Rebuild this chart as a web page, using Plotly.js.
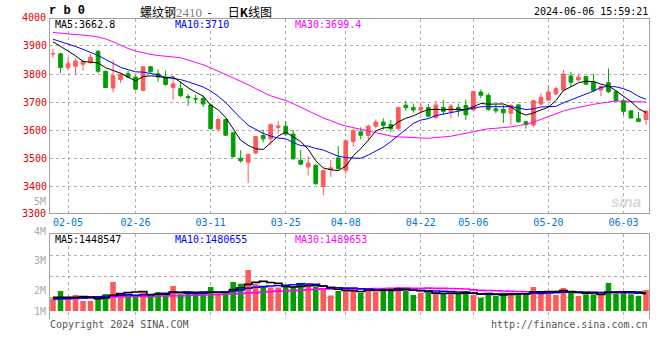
<!DOCTYPE html>
<html><head><meta charset="utf-8">
<script src="https://cdn.plot.ly/plotly-3.0.1.min.js"></script>
<style>html,body{margin:0;padding:0;background:#fff}#chart{width:660px;height:360px}</style>
</head><body><div id="chart"></div>
<script>
// ---- data ----
const dates = ['02-01','02-02','02-05','02-06','02-07','02-08','02-19','02-20','02-21','02-22','02-23','02-26','02-27','02-28','02-29',
 '03-01','03-04','03-05','03-06','03-07','03-08','03-11','03-12','03-13','03-14','03-15','03-18','03-19','03-20','03-21','03-22','03-25','03-26','03-27','03-28','03-29',
 '04-01','04-02','04-03','04-08','04-09','04-10','04-11','04-12','04-15','04-16','04-17','04-18','04-19','04-22','04-23','04-24','04-25','04-26','04-29','04-30',
 '05-06','05-07','05-08','05-09','05-10','05-13','05-14','05-15','05-16','05-17','05-20','05-21','05-22','05-23','05-24','05-27','05-28','05-29','05-30','05-31',
 '06-03','06-04','06-05','06-06'];
const openP = [3871,3872,3823,3828,3835,3840,3881,3810,3750,3780,3801,3789,3741,3826,3801,3789,3752,3748,3720,3713,
 3713,3690,3604,3638,3591,3500,3486,3519,3581,3569,3610,3614,3586,3493,3469,3475,3398,3460,3501,3457,
 3559,3594,3581,3614,3629,3620,3605,3689,3681,3672,3681,3645,3681,3667,3681,3688,3672,3736,3724,3676,
 3674,3660,3690,3630,3618,3693,3707,3729,3743,3793,3779,3791,3773,3743,3769,3737,3705,3669,3641,3638];
const highP = [3889,3876,3859,3855,3852,3870,3886,3812,3850,3805,3812,3795,3829,3829,3817,3812,3790,3773,3728,3727,
 3724,3693,3644,3640,3593,3529,3516,3579,3602,3624,3633,3633,3600,3529,3507,3477,3457,3495,3543,3564,
 3606,3610,3621,3638,3642,3636,3683,3705,3695,3698,3693,3705,3707,3693,3695,3709,3738,3745,3733,3693,
 3690,3693,3693,3633,3707,3731,3761,3755,3814,3807,3802,3793,3800,3757,3820,3743,3710,3669,3665,3668];
const lowP = [3857,3803,3813,3797,3812,3838,3804,3750,3734,3768,3786,3742,3739,3805,3773,3758,3709,3717,3687,3695,
 3682,3605,3594,3579,3503,3484,3412,3514,3557,3547,3586,3579,3495,3475,3439,3404,3368,3433,3460,3445,
 3541,3567,3564,3606,3602,3594,3602,3669,3662,3657,3645,3639,3657,3643,3648,3636,3669,3714,3669,3660,
 3626,3619,3626,3605,3610,3689,3705,3726,3740,3755,3773,3761,3737,3721,3733,3701,3654,3643,3631,3619];
const closeP = [3873,3823,3837,3846,3845,3860,3810,3752,3794,3799,3789,3746,3826,3808,3789,3763,3765,3723,3715,3711,
 3693,3605,3638,3582,3505,3491,3514,3577,3569,3619,3615,3586,3498,3479,3483,3410,3457,3466,3463,3562,
 3598,3582,3614,3629,3617,3605,3681,3680,3672,3681,3650,3690,3667,3686,3672,3655,3738,3724,3674,3669,
 3662,3688,3630,3620,3705,3717,3736,3748,3800,3771,3789,3764,3741,3755,3737,3705,3667,3643,3631,3668];
const volume = [1040000,1640000,1090000,1310000,820000,820000,1040000,1390000,2380000,1480000,
 1250000,1310000,1560000,1170000,1560000,1310000,2050000,1370000,1450000,1450000,
 1450000,1970000,1420000,1530000,2380000,2240000,3360000,2210000,1970000,1930000,
 1930000,2010000,2010000,2210000,2210000,2010000,1800000,1270000,1640000,1680000,
 1890000,1500000,1800000,1580000,1800000,1890000,1970000,1640000,1310000,1500000,
 1500000,1390000,1500000,1390000,1450000,1640000,1310000,1090000,1500000,1230000,
 1500000,1500000,1370000,1450000,1970000,1560000,1640000,1310000,1890000,1530000,
 1230000,1370000,1370000,1310000,2300000,1450000,1450000,1370000,1250000,1720000];
// moving-average values before enough history is on screen
const ma5Head = [3915,3900,3882,3865];
const ma10Head = [3924,3916,3908,3898,3888,3878,3866,3852,3837];
const ma30Head = [3948,3946,3944,3942,3939,3936,3932,3925,3915,3903,3891,3882,3875,3870,3866,3863,3861,3858,3850,3842,
 3833,3822,3810,3800,3788,3775,3762,3748,3735];
const vma5Head = [1120000,1120000,1120000,1120000];
const vma10Head = [980000,1000000,1020000,1050000,1080000,1120000,1160000,1210000,1260000];
const vma30Head = [980000,990000,1010000,1030000,1050000,1070000,1100000,1150000,1180000,1190000,
 1200000,1210000,1220000,1220000,1230000,1230000,1250000,1260000,1270000,1290000,
 1310000,1330000,1350000,1370000,1400000,1430000,1470000,1510000,1560000];
const tickDates = ['02-05','02-26','03-11','03-25','04-08','04-22','05-06','05-20','06-03'];
const priceTicks = [3400,3500,3600,3700,3800,3900];

// ---- helpers ----
function movingAvg(src, n, head){
  const out = [];
  for (let i = 0; i < src.length; i++){
    if (i < n - 1) { out.push(head[i]); continue; }
    let s = 0; for (let j = i - n + 1; j <= i; j++) s += src[j];
    out.push(s / n);
  }
  return out;
}
const idx = dates.map((d, i) => i);
const tickvals = tickDates.map(d => dates.indexOf(d));
const RED = '#ff5a5a', GREEN = '#00a000';
const mono = 'DejaVu Sans Mono, Liberation Mono, monospace';
const volColors = idx.map(i => closeP[i] >= openP[i] ? RED : GREEN);

// geometry helpers (pixel -> paper)
const L = 50, R = 649, T = 19, B = 319;
const px = x => (x - L) / (R - L);
const py = y => (B - y) / (B - T);
const vk = 82000; // lots per pixel in the volume panel
const vRange = [-8 * vk, (B - 8 - 234.3) * vk];
const vGrid = [0.25, 0.5, 0.75].map(q => vRange[0] + q * (vRange[1] - vRange[0]));

const traces = [
  {type:'candlestick', x: idx, open: openP, high: highP, low: lowP, close: closeP,
   xaxis:'x', yaxis:'y', whiskerwidth: 0, hoverinfo:'skip',
   increasing:{line:{color:RED, width:1}, fillcolor:RED},
   decreasing:{line:{color:GREEN, width:1}, fillcolor:GREEN}},
  {type:'scatter', mode:'lines', x: idx, y: movingAvg(closeP, 30, ma30Head), line:{color:'#ff00ff', width:1}, xaxis:'x', yaxis:'y', hoverinfo:'skip'},
  {type:'scatter', mode:'lines', x: idx, y: movingAvg(closeP, 10, ma10Head), line:{color:'#0000ff', width:1}, xaxis:'x', yaxis:'y', hoverinfo:'skip'},
  {type:'scatter', mode:'lines', x: idx, y: movingAvg(closeP, 5, ma5Head), line:{color:'#000000', width:1}, xaxis:'x', yaxis:'y', hoverinfo:'skip'},
  {type:'bar', x: idx, y: volume, marker:{color: volColors, line:{width:0}}, width: 0.74, xaxis:'x2', yaxis:'y2', hoverinfo:'skip'},
  {type:'scatter', mode:'lines', x: idx, y: movingAvg(volume, 30, vma30Head), line:{color:'#ff00ff', width:1.6, shape:'hvh'}, xaxis:'x2', yaxis:'y2', hoverinfo:'skip'},
  {type:'scatter', mode:'lines', x: idx, y: movingAvg(volume, 10, vma10Head), line:{color:'#0000ff', width:1.6, shape:'hvh'}, xaxis:'x2', yaxis:'y2', hoverinfo:'skip'},
  {type:'scatter', mode:'lines', x: idx, y: movingAvg(volume, 5, vma5Head), line:{color:'#000000', width:1.6, shape:'hvh'}, xaxis:'x2', yaxis:'y2', hoverinfo:'skip'}
];

function ann(text, x, y, xanchor, color, size, extra){
  return Object.assign({text, x: px(x), y: py(y), xref:'paper', yref:'paper', xanchor, yanchor:'middle',
    showarrow:false, borderpad:0, font:{family: mono, size: size || 10, color: color || '#000'}}, extra || {});
}

const annotations = [
  ann('<b>r b 0</b>', 48, 11, 'left', '#000', 12, {font:{family:'Liberation Mono, monospace', size:12, color:'#000'}}),
  ann('螺纹钢<span style="color:#808080;font-family:Liberation Serif;font-size:13px">2410</span>&nbsp;&nbsp;-&nbsp;&nbsp;&nbsp;&nbsp;&nbsp;&nbsp;日<b>K</b>线图', 139, 11, 'left', '#000', 12,
      {font:{family:'Noto Sans CJK SC, sans-serif', size:12, color:'#000'}}),
  ann('2024-06-06 15:59:21', 649, 12, 'right', '#000', 10),
  ann('MA5:3662.8', 54, 24, 'left', '#000', 10),
  ann('MA10:3710', 174, 24, 'left', '#0000ff', 10),
  ann('MA30:3699.4', 294, 24, 'left', '#ff00ff', 10),
  ann('MA5:1448547', 54, 239.5, 'left', '#000', 10),
  ann('MA10:1480655', 174, 239.5, 'left', '#0000ff', 10),
  ann('MA30:1489653', 294, 239.5, 'left', '#ff00ff', 10),
  ann('4000', 47, 17, 'right', '#e00000', 10),
  ann('3300', 47, 213, 'right', '#e00000', 10),
  ann('5M', 47, 201, 'right', '#aaaaaa', 10),
  ann('4M', 47, 231, 'right', '#aaaaaa', 10),
  ann('3M', 47, 260.5, 'right', '#aaaaaa', 10),
  ann('2M', 47, 290.5, 'right', '#aaaaaa', 10),
  ann('1M', 47, 311.5, 'right', '#aaaaaa', 10),
  ann('Copyright 2024 SINA.COM', 49, 324.5, 'left', '#555', 10),
  ann('http://finance.sina.com.cn', 649, 324.5, 'right', '#555', 10),
  ann('<b><i>sina</i></b>', 626, 201, 'center', '#dcdcdc', 14, {font:{family:'Liberation Sans, sans-serif', size:15, color:'#d8d8d8'}})
];

const gridStyle = {showgrid:true, gridcolor:'#b0b0b0', griddash:'dot', gridwidth:1, zeroline:false, ticks:''};
const layout = {
  width:660, height:360,
  margin:{l:L, r:660 - R, t:T, b:360 - B, pad:0},
  paper_bgcolor:'#fff', plot_bgcolor:'#fff', showlegend:false,
  boxgap:0.3,
  xaxis: Object.assign({}, gridStyle, {domain:[0,1], anchor:'y', range:[-0.4, 79.4], tickmode:'array', tickvals, ticktext: tickDates,
    tickfont:{family:mono, size:10, color:'#0078d0'}, showline:true, mirror:true, linecolor:'#a0a0a0', linewidth:1,
    rangeslider:{visible:false}}),
  yaxis: Object.assign({}, gridStyle, {domain:[py(212.7), 1], anchor:'x', range:[3306, 3996], tickmode:'array', tickvals: priceTicks,
    ticktext: priceTicks.map(String), tickfont:{family:mono, size:10, color:'#e00000'}, showline:true, mirror:true, linecolor:'#a0a0a0', linewidth:1}),
  xaxis2: Object.assign({}, gridStyle, {domain:[0,1], anchor:'y2', matches:'x', side:'top', tickmode:'array', tickvals,
    showticklabels:false, showline:true, linecolor:'#a0a0a0', linewidth:1, rangeslider:{visible:false}}),
  yaxis2: Object.assign({}, gridStyle, {domain:[0, py(234.3)], anchor:'x2', range: vRange, tickmode:'array', tickvals: vGrid,
    showticklabels:false, showline:true, mirror:true, linecolor:'#a0a0a0', linewidth:1}),
  annotations
};
Plotly.newPlot('chart', traces, layout, {displayModeBar:false, staticPlot:true});
</script></body></html>
